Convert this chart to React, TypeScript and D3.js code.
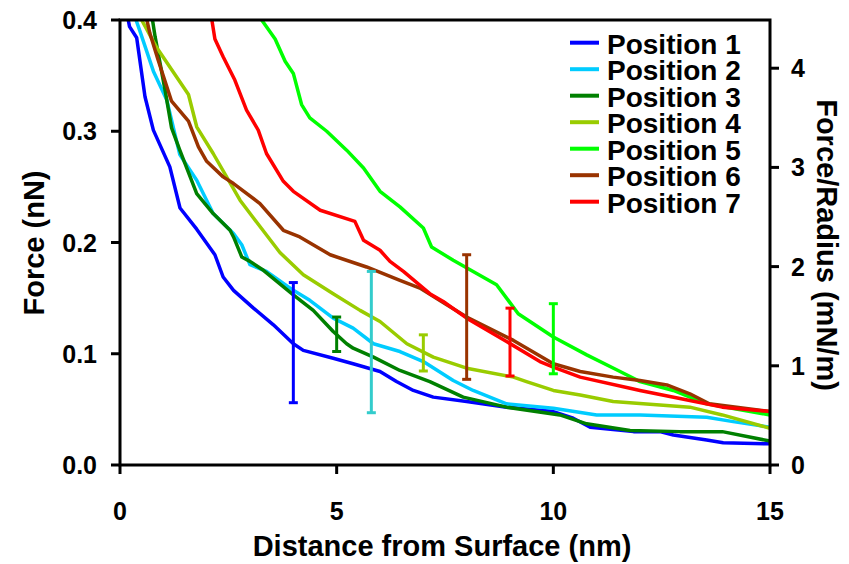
import React from "react";
import * as d3 from "d3";

const seriesNames = ["Position 1", "Position 2", "Position 3", "Position 4", "Position 5", "Position 6", "Position 7"];
const seriesColors = ["#0000ff", "#00ccff", "#008000", "#99cc00", "#00ff00", "#993300", "#ff0000"];

const pos1: [number, number][] = [[0.15,0.41],[0.19,0.40],[0.22,0.394],[0.385,0.384],[0.577,0.331],[0.77,0.301],[1.15,0.268],[1.385,0.231],[1.77,0.212],[2.19,0.189],[2.38,0.169],[2.62,0.157],[3.08,0.141],[3.54,0.126],[4.0,0.109],[4.23,0.103],[4.92,0.096],[5.38,0.091],[6.0,0.084],[6.38,0.075],[6.77,0.067],[7.23,0.061],[8.0,0.057],[8.92,0.052],[10.0,0.048],[10.46,0.042],[10.85,0.034],[11.85,0.030],[12.46,0.030],[12.77,0.027],[13.54,0.0225],[13.92,0.020],[15,0.019]];
const pos2: [number, number][] = [[0.32,0.41],[0.37,0.40],[0.46,0.39],[0.77,0.354],[1.08,0.328],[1.38,0.279],[1.77,0.256],[2.15,0.226],[2.62,0.208],[2.81,0.198],[3.0,0.180],[3.38,0.174],[4.0,0.157],[4.38,0.148],[4.92,0.132],[5.38,0.123],[5.85,0.109],[6.46,0.102],[7.0,0.093],[7.69,0.076],[8.15,0.067],[8.92,0.055],[10.0,0.051],[11.0,0.045],[12.0,0.045],[13.54,0.043],[14.15,0.039],[15,0.034]];
const pos3: [number, number][] = [[0.72,0.41],[0.75,0.40],[0.81,0.385],[1.04,0.337],[1.19,0.303],[1.38,0.283],[1.77,0.244],[2.15,0.226],[2.54,0.211],[2.62,0.205],[2.81,0.187],[3.0,0.183],[3.31,0.175],[4.0,0.153],[4.46,0.139],[4.92,0.120],[5.23,0.109],[5.38,0.105],[5.85,0.097],[6.46,0.085],[7.15,0.075],[7.92,0.061],[8.92,0.052],[10.15,0.045],[10.77,0.037],[11.77,0.031],[12.92,0.030],[13.9,0.030],[15,0.0215]];
const pos4: [number, number][] = [[0.45,0.41],[0.5,0.40],[0.85,0.375],[1.58,0.333],[1.77,0.304],[2.15,0.280],[2.77,0.238],[3.08,0.222],[3.69,0.191],[4.23,0.171],[4.92,0.154],[5.54,0.139],[6.0,0.129],[6.62,0.109],[7.23,0.097],[8.0,0.087],[9.08,0.079],[9.38,0.075],[10.0,0.067],[10.62,0.063],[11.38,0.057],[12.46,0.054],[13.15,0.052],[13.9,0.045],[15,0.033]];
const pos5: [number, number][] = [[3.22,0.41],[3.27,0.40],[3.58,0.383],[3.81,0.363],[4.0,0.352],[4.19,0.324],[4.38,0.312],[4.77,0.300],[5.23,0.283],[5.62,0.267],[6.0,0.246],[6.46,0.232],[7.0,0.213],[7.19,0.196],[7.69,0.184],[8.69,0.162],[9.19,0.136],[10.0,0.115],[10.77,0.099],[11.54,0.084],[12.0,0.075],[12.77,0.067],[13.54,0.055],[15,0.045]];
const pos6: [number, number][] = [[0.58,0.41],[0.62,0.40],[0.69,0.388],[0.88,0.364],[1.19,0.327],[1.58,0.309],[1.81,0.286],[2.0,0.273],[2.38,0.259],[2.62,0.253],[3.23,0.235],[3.77,0.211],[4.15,0.205],[4.85,0.189],[5.69,0.178],[6.46,0.166],[6.92,0.159],[7.54,0.144],[8.0,0.133],[9.08,0.112],[10.0,0.091],[10.62,0.084],[11.38,0.079],[12.0,0.076],[12.62,0.072],[13.15,0.064],[13.6,0.055],[15,0.048]];
const pos7: [number, number][] = [[2.1,0.41],[2.12,0.40],[2.19,0.383],[2.38,0.367],[2.65,0.346],[2.92,0.319],[3.19,0.301],[3.38,0.280],[3.77,0.255],[4.0,0.246],[4.62,0.229],[5.42,0.219],[5.62,0.202],[6.0,0.193],[6.23,0.183],[6.54,0.174],[7.15,0.154],[7.46,0.147],[8.0,0.132],[8.92,0.111],[9.69,0.093],[10.0,0.088],[10.62,0.079],[11.77,0.069],[12.0,0.067],[13.15,0.058],[13.9,0.052],[15,0.048]];
const allSeries = [pos1, pos2, pos3, pos4, pos5, pos6, pos7];

const errX = [4.0, 5.0, 5.8, 7.0, 8.0, 9.0, 10.0];
const errLow = [0.056, 0.102, 0.047, 0.0845, 0.077, 0.080, 0.082];
const errHigh = [0.164, 0.133, 0.174, 0.117, 0.189, 0.141, 0.145];
const errColors = ["#0000ff", "#008000", "#33cccc", "#99cc00", "#993300", "#ff0000", "#00ff00"];

const xTicks = [0, 5, 10, 15];
const yTicks = [0, 0.1, 0.2, 0.3, 0.4];
const yTickLabels = ["0.0", "0.1", "0.2", "0.3", "0.4"];
const y2Ticks = [0, 1, 2, 3, 4];

const W = 849, H = 564;
const L = 120, R = 770, T = 20, B = 465;
const FONT = "'Liberation Sans', Arial, sans-serif";

export default function App() {
  const x = d3.scaleLinear().domain([0, 15]).range([L, R]);
  const y = d3.scaleLinear().domain([0, 0.4]).range([B, T]);
  const y2 = d3.scaleLinear().domain([0, 4.486]).range([B, T]);
  const line = d3.line<[number, number]>().x(d => x(d[0])).y(d => y(d[1])).curve(d3.curveLinear);

  return (
    <svg width={W} height={H} style={{ position: "absolute", left: 0, top: 0, background: "#fff" }} fontFamily={FONT} fontWeight="bold">
      <defs>
        <clipPath id="plotclip">
          <rect x={L} y={T} width={R - L} height={B - T} />
        </clipPath>
      </defs>
      <g clipPath="url(#plotclip)">
        {allSeries.map((s, i) => (
          <path key={i} d={line(s) || ""} fill="none" stroke={seriesColors[i]} strokeWidth={3.5} strokeLinejoin="round" strokeLinecap="round" />
        ))}
      </g>
      {errX.map((ex, i) => (
        <g key={i} stroke={errColors[i]} strokeWidth={3}>
          <line x1={x(ex)} x2={x(ex)} y1={y(errLow[i])} y2={y(errHigh[i])} />
          <line x1={x(ex) - 4.5} x2={x(ex) + 4.5} y1={y(errLow[i])} y2={y(errLow[i])} />
          <line x1={x(ex) - 4.5} x2={x(ex) + 4.5} y1={y(errHigh[i])} y2={y(errHigh[i])} />
        </g>
      ))}
      <rect x={L} y={T} width={R - L} height={B - T} fill="none" stroke="#000" strokeWidth={3} />
      {xTicks.map(t => (
        <g key={t}>
          <line x1={x(t)} x2={x(t)} y1={B} y2={B + 9} stroke="#000" strokeWidth={3} />
          <text x={x(t)} y={520} textAnchor="middle" fontSize={25}>{t}</text>
        </g>
      ))}
      {yTicks.map((t, i) => (
        <g key={t}>
          <line x1={L - 9} x2={L} y1={y(t)} y2={y(t)} stroke="#000" strokeWidth={3} />
          <text x={97} y={y(t) + 9} textAnchor="end" fontSize={25}>{yTickLabels[i]}</text>
        </g>
      ))}
      {y2Ticks.map(t => (
        <g key={t}>
          <line x1={R} x2={R + 9} y1={y2(t)} y2={y2(t)} stroke="#000" strokeWidth={3} />
          <text x={791} y={y2(t) + 9} textAnchor="start" fontSize={25}>{t}</text>
        </g>
      ))}
      <text x={442} y={556} textAnchor="middle" fontSize={29}>Distance from Surface (nm)</text>
      <text transform="translate(44,243) rotate(-90)" textAnchor="middle" fontSize={29}>Force (nN)</text>
      <text transform="translate(817,245) rotate(90)" textAnchor="middle" fontSize={29}>Force/Radius (mN/m)</text>
      {seriesNames.map((n, i) => {
        const ry = 42.7 + i * 26.5;
        return (
          <g key={n}>
            <line x1={570} x2={599} y1={ry} y2={ry} stroke={seriesColors[i]} strokeWidth={4} />
            <text x={607} y={ry + 11} fontSize={28}>{n}</text>
          </g>
        );
      })}
    </svg>
  );
}
